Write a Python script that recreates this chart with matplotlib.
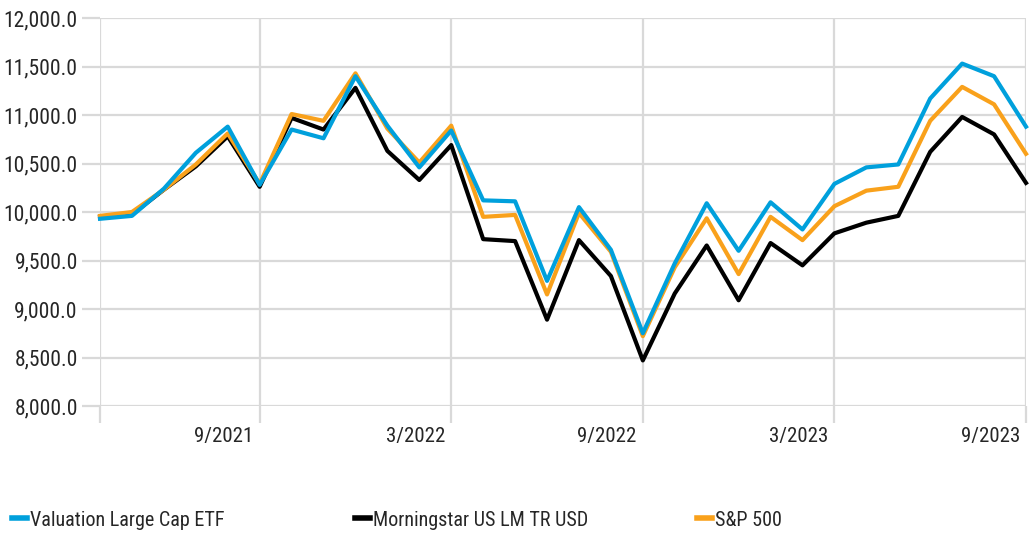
import matplotlib
matplotlib.use("Agg")
import matplotlib.pyplot as plt
from matplotlib.ticker import FuncFormatter
from matplotlib.transforms import ScaledTranslation

# ───────────── data (growth of 10,000, monthly 4/2021 … 9/2023) ─────────────
months = [
    "4/2021", "5/2021", "6/2021", "7/2021", "8/2021", "9/2021",
    "10/2021", "11/2021", "12/2021", "1/2022", "2/2022", "3/2022",
    "4/2022", "5/2022", "6/2022", "7/2022", "8/2022", "9/2022",
    "10/2022", "11/2022", "12/2022", "1/2023", "2/2023", "3/2023",
    "4/2023", "5/2023", "6/2023", "7/2023", "8/2023", "9/2023",
]
valuation_etf = [
    9930, 9960, 10240, 10610, 10880, 10280, 10850, 10760, 11400, 10890,
    10460, 10840, 10120, 10110, 9290, 10050, 9610, 8750, 9470, 10090,
    9600, 10100, 9820, 10290, 10460, 10490, 11170, 11530, 11400, 10880,
]
morningstar_lm = [
    9950, 9975, 10230, 10470, 10780, 10260, 10970, 10850, 11280, 10630,
    10330, 10690, 9720, 9700, 8890, 9710, 9340, 8470, 9160, 9655,
    9090, 9680, 9450, 9780, 9890, 9960, 10620, 10980, 10800, 10300,
]
sp500 = [
    9960, 10000, 10230, 10490, 10810, 10290, 11010, 10940, 11430, 10860,
    10510, 10890, 9950, 9970, 9150, 9990, 9590, 8720, 9430, 9935,
    9360, 9950, 9710, 10060, 10220, 10260, 10940, 11290, 11110, 10600,
]
series_names = ["Valuation Large Cap ETF", "Morningstar US LM TR USD", "S&P 500"]
tick_idx = [0, 5, 11, 17, 23, 29]

# ───────────── style ─────────────
plt.rcParams["font.family"] = ["Roboto Condensed", "DejaVu Sans Condensed",
                               "Liberation Sans Narrow", "Roboto", "DejaVu Sans"]
GRID = "#d9d9d9"
TXT = "#262626"
colors = {"etf": "#00a0dc", "ms": "#000000", "sp": "#f9a11b"}

fig = plt.figure(figsize=(10.35, 5.33), dpi=100)
ax = fig.add_axes([100 / 1035, 1 - 406 / 533, 926 / 1035, 388 / 533])

x = list(range(len(months)))
ax.plot(x, morningstar_lm, color=colors["ms"], lw=3, clip_on=False, zorder=3)
ax.plot(x, sp500, color=colors["sp"], lw=3, clip_on=False, zorder=4)
ax.plot(x, valuation_etf, color=colors["etf"], lw=3, clip_on=False, zorder=5)

ax.set_xlim(0, len(months) - 1)
ax.set_ylim(8000, 12000)
ax.set_yticks(range(8000, 12001, 500))
ax.yaxis.set_major_formatter(FuncFormatter(lambda v, _: f"{v:,.1f}"))
ax.set_xticks(tick_idx)
ax.set_xticklabels(["" if i == 0 else months[i] for i in tick_idx])

for s in ax.spines.values():
    s.set_visible(False)
ax.grid(True, color=GRID, lw=1.6)
ax.set_axisbelow(True)
ax.tick_params(axis="y", color=GRID, width=1.6, length=13, labelsize=15.5,
               labelcolor=TXT, pad=3)
ax.tick_params(axis="x", color=GRID, width=1.6, length=12, labelsize=15,
               labelcolor=TXT, pad=3)

# date labels end just left of their gridline
shift = ScaledTranslation(-0.06, 0, fig.dpi_scale_trans)
for lbl in ax.get_xticklabels():
    lbl.set_horizontalalignment("right")
    lbl.set_transform(lbl.get_transform() + shift)

# legend: three entries placed like the original
for name, c, xpos in zip(series_names, [colors["etf"], colors["ms"], colors["sp"]],
                         [12, 355, 697]):
    h, = ax.plot([], [], color=c, lw=4)
    fig.legend([h], [name], loc="center left", frameon=False,
               bbox_to_anchor=(xpos / 1035, 1 - 520 / 533), fontsize=14.5,
               handlelength=0.75, handletextpad=0.15, borderpad=0,
               borderaxespad=0, labelcolor=TXT)

fig.savefig("out.png", dpi=100)
